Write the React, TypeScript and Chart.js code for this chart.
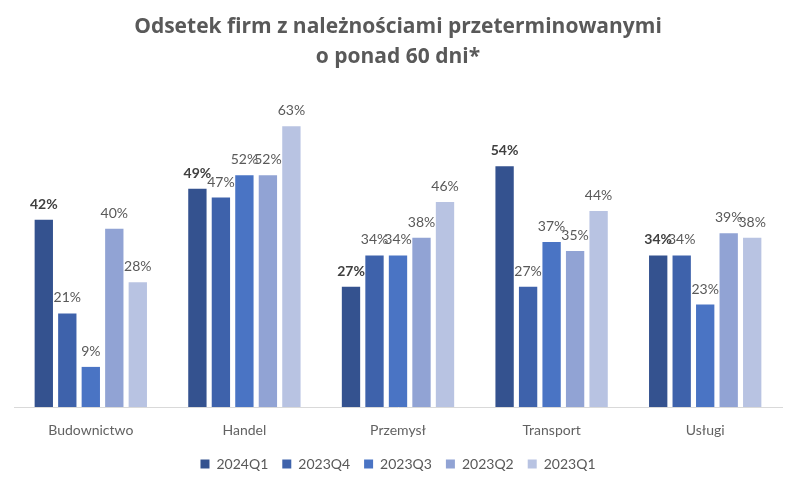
import React, { useEffect, useRef } from "react";
import { Chart, registerables } from "chart.js";

Chart.register(...registerables);

const categories = ["Budownictwo", "Handel", "Przemysł", "Transport", "Usługi"];
const seriesNames = ["2024Q1", "2023Q4", "2023Q3", "2023Q2", "2023Q1"];
const s2024Q1 = [42, 49, 27, 54, 34];
const s2023Q4 = [21, 47, 34, 27, 34];
const s2023Q3 = [9, 52, 34, 37, 23];
const s2023Q2 = [40, 52, 38, 35, 39];
const s2023Q1 = [28, 63, 46, 44, 38];
const seriesColors = ["#34528f", "#3e62ab", "#4a74c4", "#91a3d4", "#b8c3e2"];
const titleLines = ["Odsetek firm z należnościami przeterminowanymi", "o ponad 60 dni*"];

const FONT = "Lato, 'Open Sans', sans-serif";

const labelPlugin = {
  id: "barLabels",
  afterDatasetsDraw(chart: any) {
    const ctx = chart.ctx;
    ctx.save();
    ctx.textAlign = "center";
    ctx.textBaseline = "alphabetic";
    chart.data.datasets.forEach((ds: any, di: number) => {
      const meta = chart.getDatasetMeta(di);
      if (meta.hidden) return;
      meta.data.forEach((el: any, i: number) => {
        const v = ds.data[i];
        ctx.font = (di === 0 ? "bold " : "") + "14px " + FONT;
        ctx.fillStyle = di === 0 ? "#404040" : "#595959";
        ctx.fillText(v + "%", el.x, el.y - 11);
      });
    });
    ctx.restore();
  },
};

export default function App() {
  const ref = useRef<HTMLCanvasElement>(null);
  useEffect(() => {
    const all = [s2024Q1, s2023Q4, s2023Q3, s2023Q2, s2023Q1];
    const chart = new Chart(ref.current!, {
      type: "bar",
      data: {
        labels: categories,
        datasets: all.map((d, i) => ({
          label: seriesNames[i],
          data: d,
          backgroundColor: seriesColors[i],
          borderWidth: 0,
          barPercentage: 0.78,
          categoryPercentage: 0.765,
        })),
      },
      options: {
        animation: false,
        responsive: false,
        maintainAspectRatio: false,
        layout: { padding: { left: 14, right: 18, top: 0, bottom: 8 } },
        plugins: {
          title: {
            display: true,
            text: titleLines,
            color: "#595959",
            font: { family: "'Open Sans', sans-serif", size: 21, weight: "bold", lineHeight: 1.43 },
            padding: { top: 12, bottom: 23 },
          },
          legend: {
            position: "bottom",
            labels: {
              boxWidth: 9,
              boxHeight: 9,
              padding: 14,
              color: "#595959",
              font: { family: FONT, size: 14 },
            },
          },
          tooltip: { enabled: false },
        },
        scales: {
          x: {
            grid: { display: false, drawTicks: false },
            border: { display: true, color: "#d9d9d9", width: 1 },
            ticks: { color: "#626262", font: { family: FONT, size: 14 }, padding: 15 },
            afterFit: (scale: any) => {
              scale.height = 36;
            },
          },
          y: {
            display: false,
            min: 0,
            max: 70,
          },
        },
      },
      plugins: [labelPlugin],
    });
    return () => chart.destroy();
  }, []);
  return (
    <div style={{ position: "fixed", left: 0, top: 0, width: 800, height: 489, background: "#fff" }}>
      <canvas ref={ref} width={800} height={489} style={{ width: 800, height: 489 }} />
    </div>
  );
}
